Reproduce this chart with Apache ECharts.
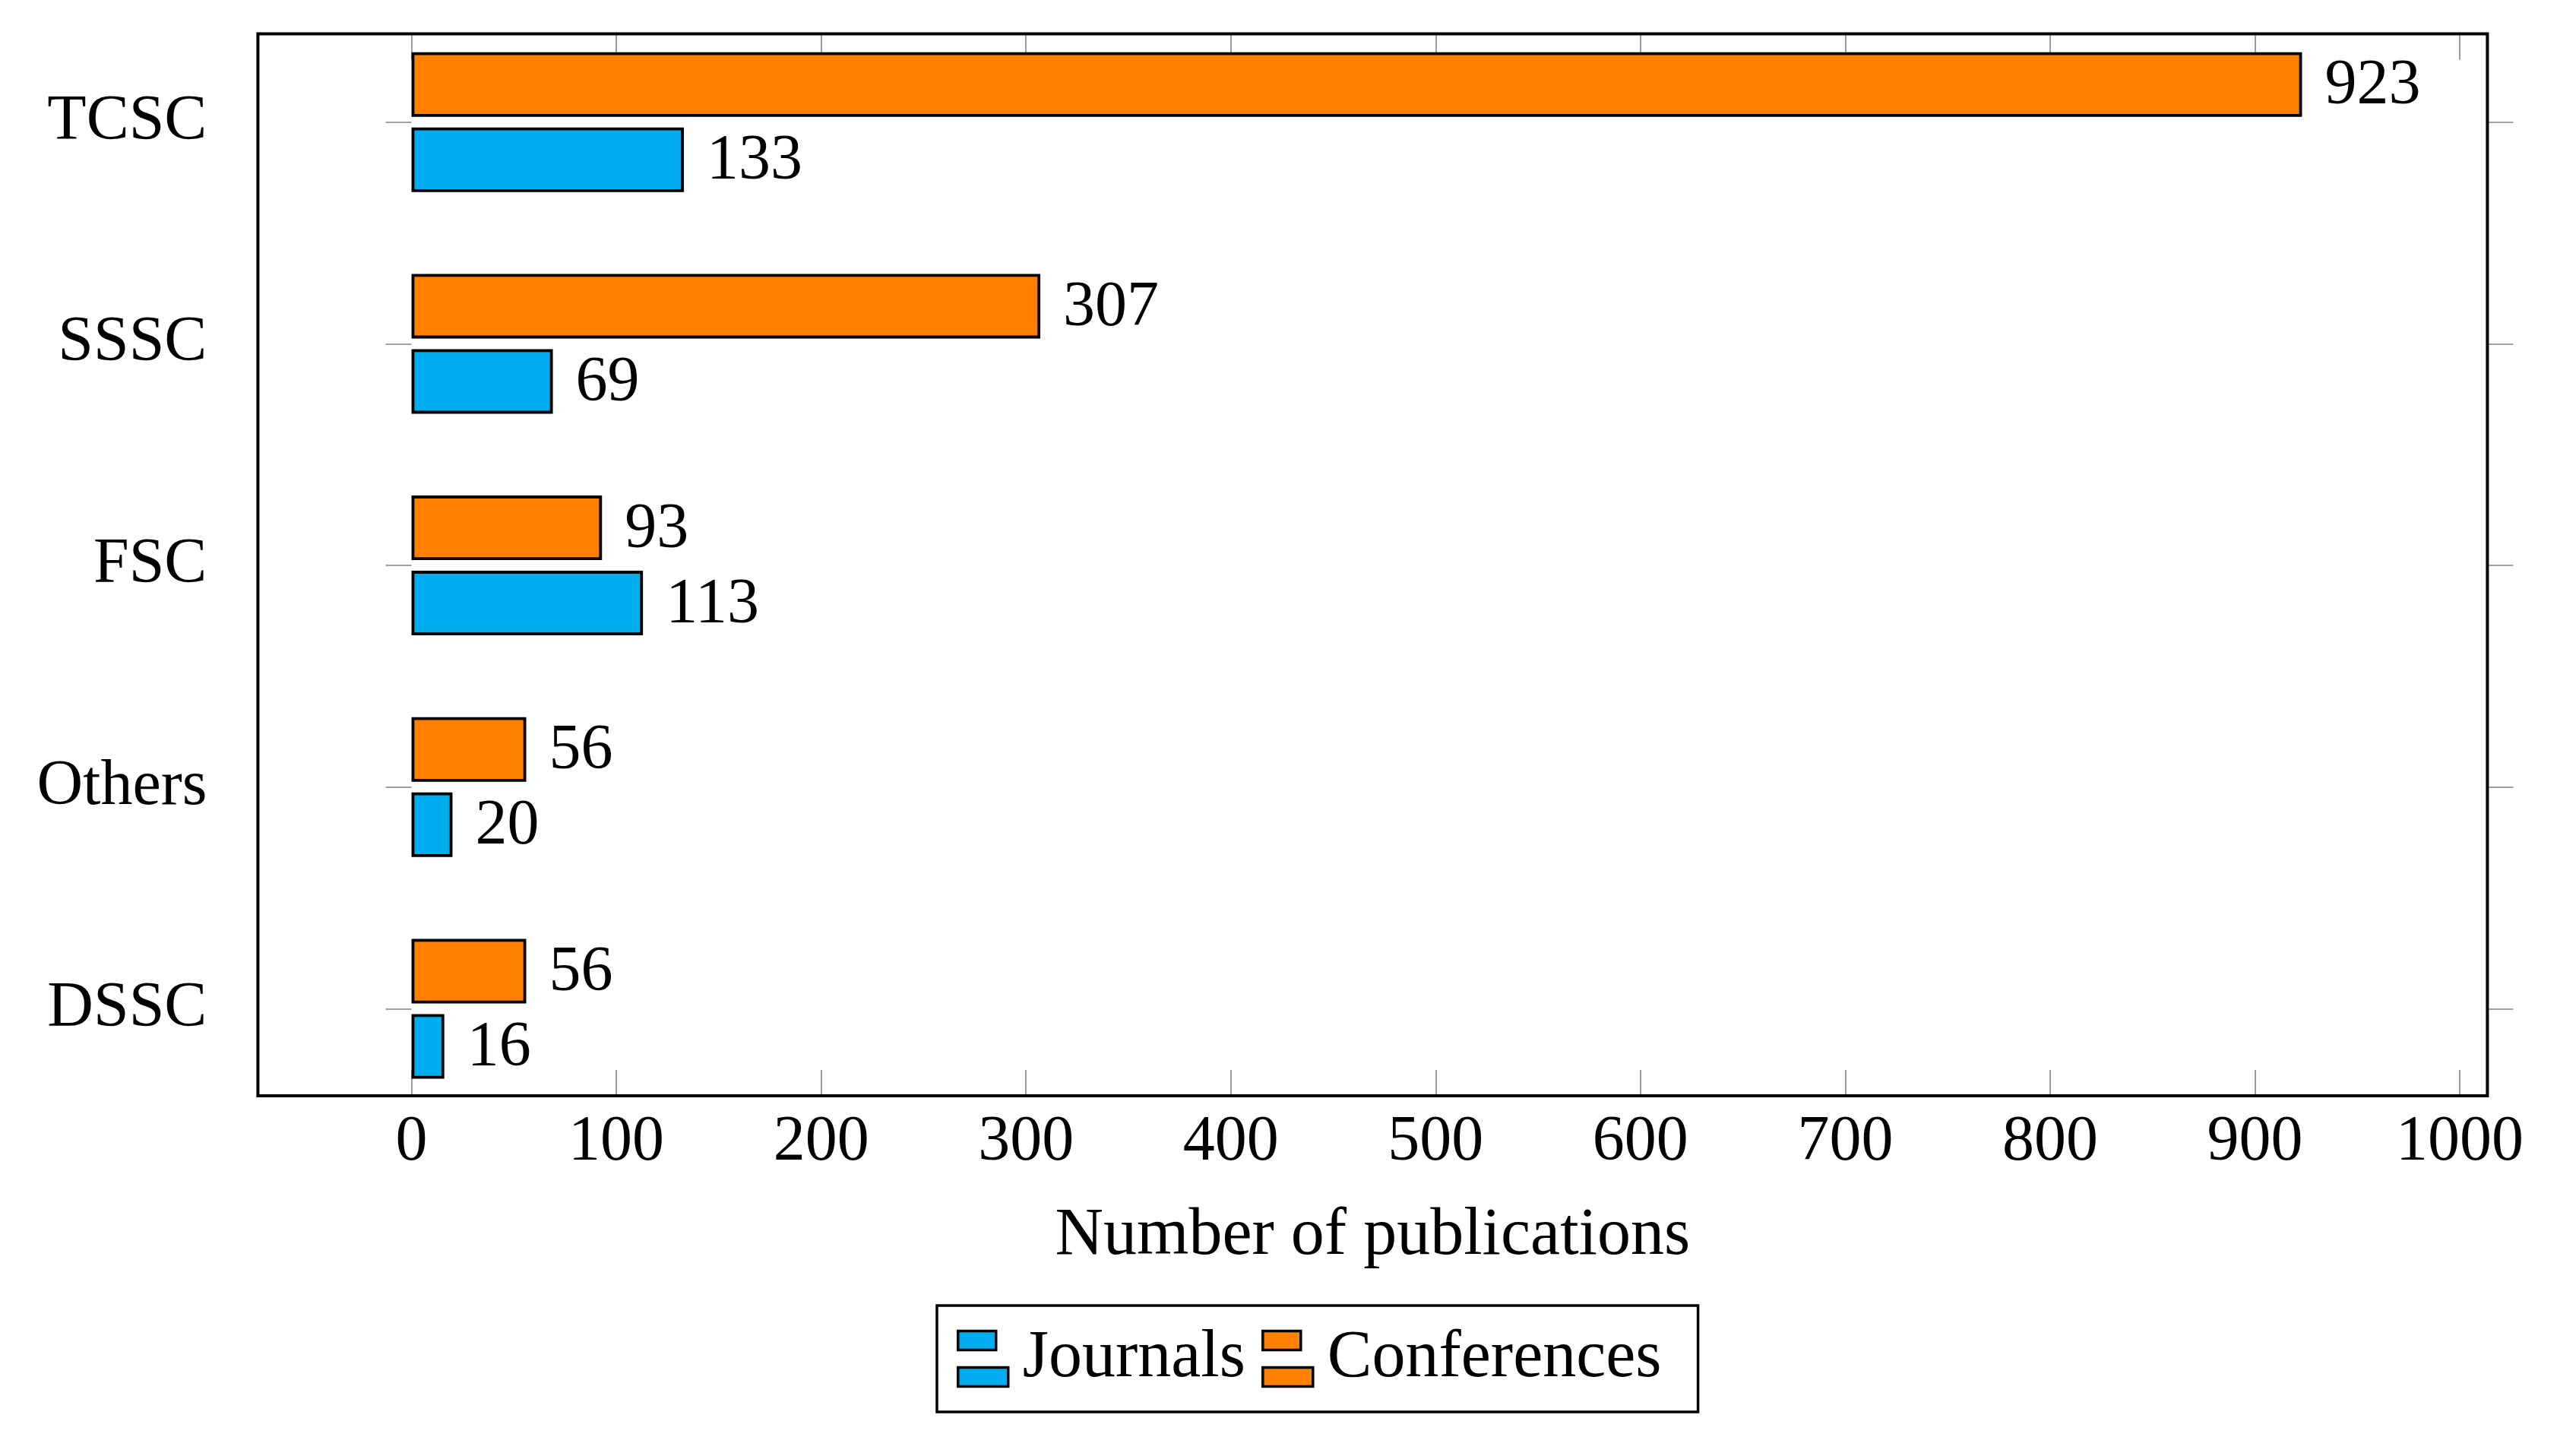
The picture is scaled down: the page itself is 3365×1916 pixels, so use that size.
<!DOCTYPE html>
<html>
<head>
<meta charset="utf-8">
<script src="https://cdn.jsdelivr.net/npm/echarts@6/dist/echarts.min.js"></script>
<style>
html,body{margin:0;padding:0;background:#fff;}
#chart{width:3365px;height:1916px;}
</style>
</head>
<body>
<div id="chart"></div>
<script>
const categories = ['TCSC', 'SSSC', 'FSC', 'Others', 'DSSC'];
const journals = [133, 69, 113, 20, 16];
const conferences = [923, 307, 93, 56, 56];
const xTicks = [0, 100, 200, 300, 400, 500, 600, 700, 800, 900, 1000];
const xName = 'Number of publications';

const FONT = 'Liberation Serif';
const FS = 84;
const FS_TEXT = 88;
const tickColor = '#808080';
const XMIN = -75, XMAX = 1013.5;

const chart = echarts.init(document.getElementById('chart'), null, {renderer: 'canvas'});
const legendIcon = 'path://M0 0H50V25H0Z M0 48H66V73H0Z';

chart.setOption({
  backgroundColor: '#fff',
  animation: false,
  textStyle: {fontFamily: FONT},
  grid: [
    {left: 339.4, right: 91.6, top: 44.4, bottom: 474, show: true, borderColor: '#000', borderWidth: 4, backgroundColor: 'transparent', z: 5},
    {left: 339.4, right: 91.6, top: 160.7, bottom: 588.5}
  ],
  xAxis: [
    {
      gridIndex: 0, type: 'value', position: 'bottom', min: XMIN, max: XMAX,
      axisLine: {show: false},
      splitLine: {show: false},
      axisTick: {show: true, inside: true, length: 34, lineStyle: {color: tickColor, width: 1.6}, customValues: xTicks},
      axisLabel: {show: true, customValues: xTicks, margin: 62, verticalAlign: 'middle', color: '#000', fontSize: FS, fontFamily: FONT,
        formatter: function (v) { return String(v); }},
      name: xName, nameLocation: 'middle', nameGap: 185,
      nameTextStyle: {color: '#000', fontSize: FS_TEXT, fontFamily: FONT, verticalAlign: 'middle'}
    },
    {
      gridIndex: 0, type: 'value', position: 'top', min: XMIN, max: XMAX,
      axisLine: {show: false},
      splitLine: {show: false},
      axisTick: {show: true, inside: true, length: 34, lineStyle: {color: tickColor, width: 1.6}, customValues: xTicks},
      axisLabel: {show: false}
    },
    {
      gridIndex: 1, type: 'value', min: XMIN, max: XMAX, show: false
    }
  ],
  yAxis: [
    {gridIndex: 0, type: 'value', min: 0, max: 1, show: false},
    {
      gridIndex: 1, type: 'category', data: categories, inverse: true, boundaryGap: false, position: 'left',
      axisLine: {show: false},
      axisTick: {show: true, inside: false, length: 34, lineStyle: {color: tickColor, width: 1.6}},
      axisLabel: {show: true, margin: 67, color: '#000', fontSize: FS, fontFamily: FONT, align: 'right', verticalAlign: 'middle', padding: [10, 0, 0, 0]},
      splitLine: {show: false}
    },
    {
      gridIndex: 1, type: 'category', data: categories, inverse: true, boundaryGap: false, position: 'right',
      axisLine: {show: false},
      axisTick: {show: true, inside: false, length: 34, lineStyle: {color: tickColor, width: 1.6}},
      axisLabel: {show: false},
      splitLine: {show: false}
    }
  ],
  legend: {
    data: ['Journals', 'Conferences'],
    orient: 'horizontal',
    left: 1233, top: 1718,
    padding: [26, 48, 26, 26],
    itemGap: 21,
    itemWidth: 66, itemHeight: 73,
    icon: legendIcon,
    borderColor: '#000', borderWidth: 3.5,
    itemStyle: {borderColor: '#000', borderWidth: 3.5},
    textStyle: {color: '#000', fontSize: FS_TEXT, fontFamily: FONT, padding: [4, 0, 0, 14]}
  },
  series: [
    {
      name: 'Conferences', type: 'bar', xAxisIndex: 2, yAxisIndex: 1,
      data: conferences, barWidth: 85, barGap: '16.5%', clip: false,
      itemStyle: {color: '#FF8000', borderColor: '#000', borderWidth: 3.8},
      label: {show: true, position: 'right', distance: 30, color: '#000', fontSize: FS, fontFamily: FONT, offset: [0, 3]}
    },
    {
      name: 'Journals', type: 'bar', xAxisIndex: 2, yAxisIndex: 1,
      data: journals, barWidth: 85, barGap: '16.5%', clip: false,
      itemStyle: {color: '#00AEEF', borderColor: '#000', borderWidth: 3.8},
      label: {show: true, position: 'right', distance: 30, color: '#000', fontSize: FS, fontFamily: FONT, offset: [0, 3]}
    }
  ]
});
</script>
</body>
</html>
